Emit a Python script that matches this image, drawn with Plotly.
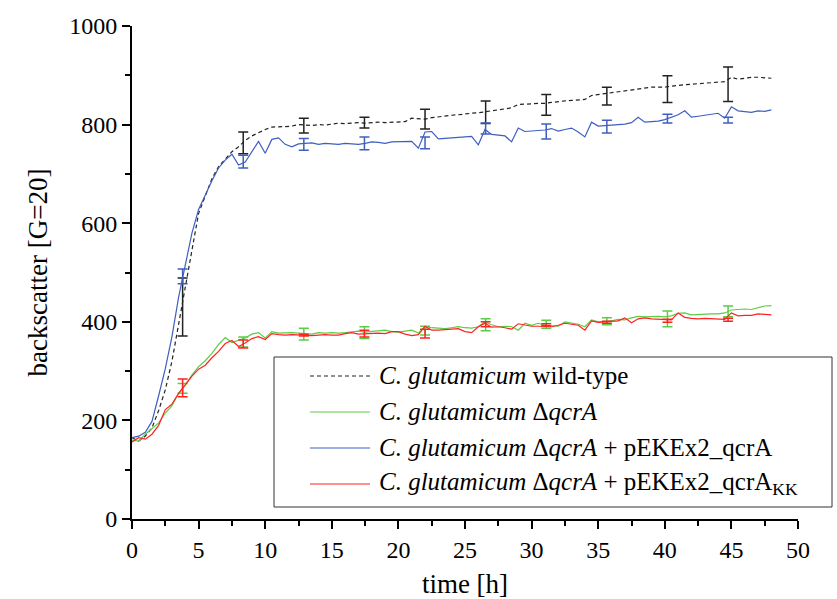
import plotly.graph_objects as go

# ---------------- data ----------------
time_h = [0.0, 0.5, 1.0, 1.5, 2.0, 2.5, 3.0, 3.5, 4.0, 4.5, 5.0, 5.5, 6.0, 6.5, 7.0, 7.5,
          8.0, 8.5, 9.0, 9.5, 10.0, 10.5, 11.0, 11.5, 12.0, 12.5, 13.0, 13.5, 14.0, 14.5,
          15.0, 15.5, 16.0, 16.5, 17.0, 17.5, 18.0, 18.5, 19.0, 19.5, 20.0, 20.5, 21.0,
          21.5, 22.0, 22.5, 23.0, 23.5, 24.0, 24.5, 25.0, 25.5, 26.0, 26.5, 27.0, 27.5,
          28.0, 28.5, 29.0, 29.5, 30.0, 30.5, 31.0, 31.5, 32.0, 32.5, 33.0, 33.5, 34.0,
          34.5, 35.0, 35.5, 36.0, 36.5, 37.0, 37.5, 38.0, 38.5, 39.0, 39.5, 40.0, 40.5,
          41.0, 41.5, 42.0, 42.5, 43.0, 43.5, 44.0, 44.5, 45.0, 45.5, 46.0, 46.5, 47.0,
          47.5, 48.0]

wild_type = [165, 158, 168, 185, 220, 262, 320, 395, 465, 545, 620, 655, 690, 715, 730, 745,
             755, 768, 777, 784, 790, 795, 795, 796, 797, 800, 799, 798, 800, 799,
             801, 803, 802, 803, 804, 803, 804, 805, 804, 805, 806, 806, 813,
             812, 811, 814, 816, 817, 819, 820, 822, 823, 824, 826, 828, 831,
             833, 834, 841, 841, 842, 843, 843, 845, 847, 848, 849, 850, 851,
             859, 861, 863, 865, 867, 869, 871, 873, 875, 876, 876, 876, 878,
             880, 881, 882, 883, 884, 885, 886, 887, 896, 892, 894, 896, 896,
             895, 894]

delta_qcrA = [160, 158, 172, 184, 195, 215, 230, 255, 272, 292, 309, 321, 336, 354, 368, 358,
              363, 367, 375, 378, 367, 380, 377, 378, 378, 377, 376, 375, 378, 377,
              378, 377, 378, 380, 381, 379, 380, 382, 383, 380, 379, 381, 383,
              377, 390, 388, 387, 386, 388, 390, 388, 387, 390, 400, 394, 390,
              391, 390, 383, 397, 393, 397, 393, 392, 391, 400, 398, 395, 390,
              404, 400, 401, 402, 405, 404, 408, 411, 410, 411, 411, 410, 412,
              417, 418, 414, 415, 415, 416, 416, 418, 424, 425, 426, 425, 428,
              432, 433]

comp_qcrA = [165, 168, 176, 198, 250, 305, 370, 450, 515, 580, 628, 658, 686, 712, 728, 740,
             718, 724, 746, 766, 742, 770, 773, 760, 755, 761, 762, 763, 760, 762,
             761, 760, 762, 761, 760, 762, 765, 764, 762, 765, 765, 766, 766,
             752, 785, 786, 771, 772, 773, 774, 775, 776, 759, 790, 780, 778,
             777, 765, 793, 786, 787, 788, 789, 792, 787, 790, 793, 785, 775,
             805, 797, 798, 799, 799, 801, 804, 815, 805, 806, 807, 810, 815,
             820, 828, 815, 817, 819, 821, 823, 813, 836, 828, 826, 825, 828,
             827, 830]

comp_qcrA_KK = [156, 165, 162, 172, 190, 222, 233, 255, 272, 290, 304, 312, 327, 340, 356, 362,
                350, 357, 366, 370, 364, 376, 374, 373, 374, 373, 373, 372, 373, 374,
                373, 373, 376, 378, 375, 376, 376, 377, 376, 380, 380, 375, 372,
                374, 391, 383, 383, 384, 385, 386, 380, 378, 390, 397, 389, 390,
                388, 385, 396, 393, 391, 391, 391, 390, 393, 397, 395, 393, 383,
                402, 399, 400, 401, 402, 408, 398, 406, 408, 406, 405, 405, 404,
                418, 409, 407, 406, 407, 406, 405, 405, 418, 412, 413, 413, 416,
                415, 414]

# error bars (mean, sd) at selected sampling times
err_time = [3.8, 8.35, 12.9, 17.45, 22.0, 26.55, 31.1, 35.65, 40.2, 44.75]
wt_mean = [430, 763, 798, 804, 811, 825, 840, 858, 872, 882]
wt_sd = [59, 22, 15, 11, 20, 23, 21, 18, 27, 35]
dq_mean = [265, 359, 375, 378, 382, 394, 395, 401, 406, 421]
dq_sd = [10, 10, 12, 12, 9, 12, 8, 7, 16, 11]
cq_mean = [492, 725, 760, 762, 763, 792, 786, 796, 812, 809]
cq_sd = [15, 13, 12, 13, 12, 11, 15, 13, 9, 6]
kk_mean = [266, 355, 373, 376, 376, 395, 394, 399, 402, 404]
kk_sd = [18, 8, 2, 7, 9, 5, 2, 2, 3, 3]

legend_labels = [
    "<i>C. glutamicum</i> wild-type",
    "<i>C. glutamicum</i> Δ<i>qcrA</i>",
    "<i>C. glutamicum</i> Δ<i>qcrA</i> + pEKEx2_qcrA",
    "<i>C. glutamicum</i> Δ<i>qcrA</i> + pEKEx2_qcrA<sub>KK</sub>",
]

# ---------------- styles ----------------
FONT = "Liberation Serif"
C_WT = "#222222"
C_DQ = "#5ccc45"
C_CQ = "#3f5fc0"
C_KK = "#ff2222"

series = [
    (wild_type, wt_mean, wt_sd, C_WT, "dash"),
    (delta_qcrA, dq_mean, dq_sd, C_DQ, "solid"),
    (comp_qcrA, cq_mean, cq_sd, C_CQ, "solid"),
    (comp_qcrA_KK, kk_mean, kk_sd, C_KK, "solid"),
]

fig = go.Figure()
for (vals, m, sd, col, dash), lab in zip(series, legend_labels):
    fig.add_trace(go.Scatter(
        x=time_h, y=vals, mode="lines", name=lab, showlegend=False,
        line=dict(color=col, width=1.2, dash="4px,3px" if dash == "dash" else "solid"),
    ))
    fig.add_trace(go.Scatter(
        x=err_time, y=m, mode="markers", showlegend=False, hoverinfo="skip",
        marker=dict(size=1, color="rgba(0,0,0,0)"),
        error_y=dict(type="data", array=sd, visible=True, color=col, thickness=1.5, width=5),
    ))

# ---------------- manual legend ----------------
L, R, T, B = 132, 39, 26, 80
W, H = 837, 599
pw, ph = W - L - R, H - T - B


def px(xp):
    return (xp - L) / pw


def py(yp):
    return (H - B - yp) / ph


shapes = [dict(type="rect", xref="paper", yref="paper",
               x0=px(274), x1=px(832), y0=py(507), y1=py(357),
               line=dict(color="#333333", width=1), fillcolor="rgba(255,255,255,0)", layer="above")]
row_y = [376, 412, 448, 484]
annotations = []
for (vals, m, sd, col, dash), lab, ry in zip(series, legend_labels, row_y):
    shapes.append(dict(type="line", xref="paper", yref="paper",
                       x0=px(310), x1=px(370), y0=py(ry), y1=py(ry),
                       line=dict(color=col, width=1.2, dash="4px,3px" if dash == "dash" else "solid")))
    annotations.append(dict(xref="paper", yref="paper", x=px(377), y=py(ry - 1),
                            xanchor="left", yanchor="middle", showarrow=False, text=lab,
                            font=dict(family=FONT, size=25, color="black")))

fig.update_layout(
    width=W, height=H,
    margin=dict(l=L, r=R, t=T, b=B),
    paper_bgcolor="white", plot_bgcolor="white",
    font=dict(family=FONT, color="black"),
    shapes=shapes, annotations=annotations,
    showlegend=False,
    xaxis=dict(
        range=[0, 50], dtick=5, tick0=0, showgrid=False, zeroline=False, automargin=False,
        showline=True, linecolor="black", linewidth=2,
        ticks="outside", ticklen=8, tickwidth=2, tickcolor="black",
        tickfont=dict(family=FONT, size=24),
        minor=dict(dtick=2.5, ticks="outside", ticklen=5, tickwidth=2, tickcolor="black"),
        title=dict(text="time [h]", font=dict(family=FONT, size=27), standoff=14),
    ),
    yaxis=dict(
        range=[0, 1000], dtick=200, tick0=0, showgrid=False, zeroline=False, automargin=False,
        showline=True, linecolor="black", linewidth=2,
        ticks="outside", ticklen=8, tickwidth=2, tickcolor="black",
        tickfont=dict(family=FONT, size=24),
        minor=dict(dtick=100, ticks="outside", ticklen=5, tickwidth=2, tickcolor="black"),
        title=dict(text="backscatter [G=20]", font=dict(family=FONT, size=27), standoff=14),
    ),
)

fig.write_html("out.html", config={"displayModeBar": False},
               post_script="document.body.style.margin='0';")
